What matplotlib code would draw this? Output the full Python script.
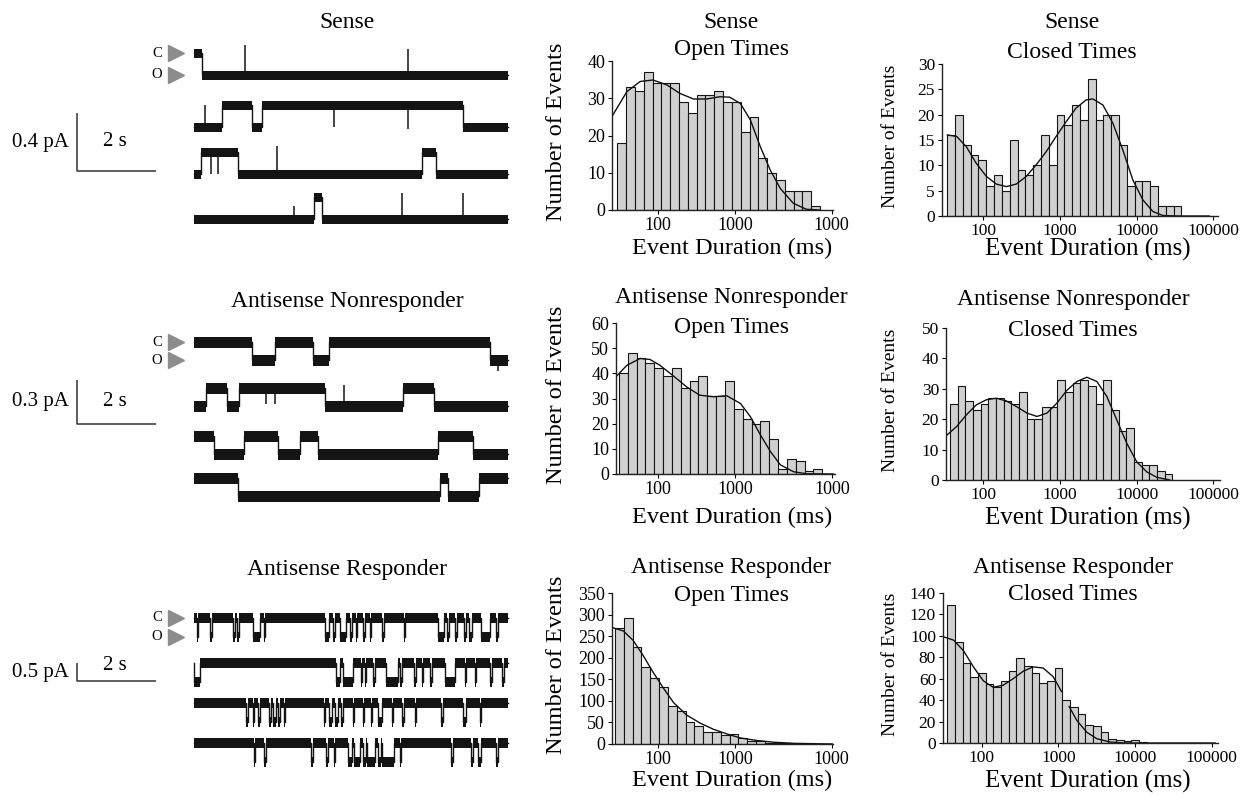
import numpy as np
import matplotlib
matplotlib.use("Agg")
import matplotlib.pyplot as plt
from matplotlib.ticker import NullLocator, FixedLocator, FixedFormatter

plt.rcParams["font.family"] = ["Liberation Serif", "DejaVu Serif"]

W, H = 1257, 797

# ---------------------------------------------------------------------------
# Single-channel sweeps (8 s each). "C" = closed (upper level), "O" = open.
# switches: times (s) where the channel changes state.
# spikes: (time s, size in unitary amplitudes, + = upward) brief events.
# ---------------------------------------------------------------------------
SWEEP_S = 8.0

SENSE_START = ["C", "O", "O", "O"]
SENSE_SWITCH = [
    [0.21],
    [0.72, 1.49, 1.74, 6.85],
    [0.19, 1.11, 5.80, 6.17],
    [3.06, 3.25],
]
SENSE_SPIKES = [
    [(1.29, 1.4), (5.46, 1.2)],
    [(0.27, 1.0), (3.57, -1.0), (5.46, -1.1)],
    [(0.44, -1.0), (0.60, -1.0), (2.11, 1.3)],
    [(2.54, 0.6), (5.29, 1.2), (6.85, 1.2)],
]

NONRESP_START = ["C", "O", "C", "C"]
NONRESP_SWITCH = [
    [1.49, 2.06, 3.03, 3.43, 7.55],
    [0.30, 0.85, 1.15, 3.33, 5.33, 6.12],
    [0.51, 1.28, 2.13, 2.69, 3.16, 6.21, 7.10],
    [1.11, 6.27, 6.48, 7.27],
]
NONRESP_SPIKES = [
    [(7.75, -0.6)],
    [(1.83, -0.9), (2.06, -0.9), (3.82, 1.2)],
    [],
    [],
]

# responder: closed baseline with brief openings (start s, duration s)
RESP_OPENINGS = [
    [(0.08, 0.03), (0.42, 0.03), (1.00, 0.04), (1.10, 0.05), (1.50, 0.18),
     (1.78, 0.03), (3.35, 0.08), (3.55, 0.05), (3.72, 0.15), (3.98, 0.04),
     (4.12, 0.04), (4.30, 0.05), (4.48, 0.03), (4.80, 0.03), (5.35, 0.03),
     (6.22, 0.15), (6.45, 0.04), (6.65, 0.05), (6.88, 0.04), (7.00, 0.08),
     (7.32, 0.22), (7.70, 0.04)],
    [(0.00, 0.15), (3.62, 0.10), (3.80, 0.25), (4.25, 0.04), (4.35, 0.04),
     (4.55, 0.05), (4.90, 0.30), (5.25, 0.05), (5.60, 0.05), (5.80, 0.04),
     (6.00, 0.06), (6.40, 0.25), (6.90, 0.04), (7.15, 0.04), (7.55, 0.04),
     (7.85, 0.04)],
    [(1.32, 0.05), (1.50, 0.04), (1.62, 0.06), (1.90, 0.05), (2.02, 0.08),
     (2.15, 0.05), (2.30, 0.03), (3.30, 0.04), (3.45, 0.06), (3.58, 0.10),
     (3.75, 0.05), (4.05, 0.03), (4.30, 0.04), (4.50, 0.03), (4.68, 0.12),
     (5.05, 0.03), (5.30, 0.05), (5.62, 0.04), (6.30, 0.05), (6.86, 0.06),
     (7.28, 0.04)],
    [(1.52, 0.04), (1.78, 0.05), (2.99, 0.04), (3.36, 0.05), (3.57, 0.03),
     (3.92, 0.10), (4.07, 0.15), (4.30, 0.08), (4.42, 0.20), (4.68, 0.08),
     (4.80, 0.30), (5.25, 0.03), (6.56, 0.04), (7.05, 0.05), (7.24, 0.06),
     (7.70, 0.04)],
]

# ---------------------------------------------------------------------------
# Dwell-time histograms (counts per log bin) and fitted curves (ms, count)
# ---------------------------------------------------------------------------
SENSE_OPEN = [18, 33, 32, 37, 34, 34, 34, 29, 26, 31, 31, 32, 29, 29, 21, 25,
              14, 10, 8, 5, 5, 5, 1]
SENSE_OPEN_FIT_X = [25, 39, 58, 85, 129, 191, 288, 427, 631, 851, 1175, 1585,
                    2138, 2884, 3890, 5754, 8511, 12589]
SENSE_OPEN_FIT_Y = [25.2, 31.8, 34.5, 34.9, 33.6, 31.3, 29.8, 29.8, 30.4, 30.3,
                    28.6, 24.2, 17.0, 10.7, 5.8, 1.8, 0.2, 0.0]

SENSE_CLOSED = [16, 20, 14, 12, 11, 6, 8, 5, 15, 9, 8, 10, 16, 10, 20, 18, 22,
                19, 27, 19, 20, 20, 14, 6, 7, 7, 6, 2, 2, 2]
SENSE_CLOSED_FIT_X = [34, 45, 60, 81, 110, 148, 200, 269, 363, 490, 661, 891,
                      1202, 1622, 2188, 2692, 3631, 4898, 6607, 8913, 12023,
                      16218, 21878, 32359, 88000]
SENSE_CLOSED_FIT_Y = [16.0, 15.7, 13.7, 10.4, 7.8, 6.3, 5.8, 6.3, 7.8, 10.1,
                      12.7, 15.7, 18.6, 21.3, 22.9, 23.1, 21.9, 18.3, 13.0, 7.1,
                      3.2, 0.9, 0.1, 0.0, 0.0]

NONRESP_OPEN = [40, 48, 46, 44, 42, 39, 42, 34, 37, 39, 31, 31, 37, 26, 22, 20,
                21, 14, 2, 6, 5, 1, 2]
NONRESP_OPEN_FIT_X = [28, 39, 58, 78, 105, 158, 234, 347, 525, 776, 1175, 1585,
                      2138, 2884, 3890, 5754, 8511, 19055]
NONRESP_OPEN_FIT_Y = [38.6, 43.2, 45.9, 45.5, 43.2, 38.9, 34.6, 31.3, 30.7,
                      31.1, 28.0, 22.7, 15.5, 8.9, 3.6, 0.9, 0.1, 0.0]

NONRESP_CLOSED = [25, 31, 26, 23, 25, 27, 27, 26, 25, 29, 20, 20, 24, 24, 33,
                  29, 32, 33, 31, 25, 33, 23, 16, 17, 6, 5, 5, 3, 2]
NONRESP_CLOSED_FIT_X = [32, 45, 60, 81, 110, 148, 200, 269, 372, 501, 676, 912,
                        1230, 1660, 2239, 3020, 4074, 5495, 7413, 10000, 13490,
                        18197, 26915]
NONRESP_CLOSED_FIT_Y = [14.3, 17.6, 21.4, 24.7, 26.4, 26.9, 26.0, 24.2, 22.0,
                        20.9, 22.0, 25.3, 29.5, 32.4, 33.8, 32.4, 27.5, 19.8,
                        12.1, 6.0, 2.7, 0.9, 0.0]

RESP_OPEN = [270, 291, 224, 178, 153, 131, 88, 77, 52, 42, 28, 27, 20, 23, 13,
             8, 8, 3, 2, 2, 1, 1, 1]
RESP_OPEN_FIT_X = [25, 35, 47, 63, 85, 117, 158, 234, 355, 525, 794, 1175, 1950,
                   3236, 6026, 19055]
RESP_OPEN_FIT_Y = [270, 262, 240, 206, 167, 129, 96, 67, 48, 34, 23, 14, 8, 4,
                   1.5, 0]

RESP_CLOSED = [129, 94, 75, 62, 65, 55, 52, 58, 67, 79, 72, 65, 56, 58, 70, 40,
               34, 27, 17, 16, 10, 4, 3, 2, 3, 1]
# the published fit is drawn in two pieces (gap near 1.2 s)
RESP_CLOSED_FIT_X = [32, 43, 58, 78, 105, 141, 191, 257, 347, 468, 631, 851,
                     1096, np.nan, 1380, 1738, 2344, 3162, 4677, 7079, 110000]
RESP_CLOSED_FIT_Y = [99, 96, 86, 71, 58, 52, 54, 60, 67, 71, 70, 62, 48, np.nan,
                     34, 21, 10, 4, 1, 0, 0]

# ---------------------------------------------------------------------------
fig = plt.figure(figsize=(W / 100, H / 100), dpi=100)
fig.patch.set_facecolor("white")


def rect(left, top, right, bottom):
    return [left / W, 1 - bottom / H, (right - left) / W, (bottom - top) / H]


def ftext(x, y, s, **kw):
    fig.text(x / W, 1 - y / H, s, **kw)


# --- trace panels ----------------------------------------------------------
PX_PER_S = 39.25
T0_PX = 194          # pixel column where every sweep starts


def openings_to_switches(events):
    out = []
    for t, d in events:
        out += [t, t + d]
    return out


def steps(start, switches):
    t = np.concatenate([[0.0], switches, [SWEEP_S]])
    first = 1.0 if start == "C" else 0.0
    lev = [first if i % 2 == 0 else 1.0 - first for i in range(len(switches) + 1)]
    lev.append(lev[-1])
    return t, np.array(lev)


def trace_panel(title, title_y, starts, switches, spikes, top, bottom, ppa,
                amp, noise_px, rows, bar_px, scale, scale_txt):
    ax = fig.add_axes(rect(0, top, 520, bottom))
    ax.set_xlim(-T0_PX / PX_PER_S, (520 - T0_PX) / PX_PER_S)
    ax.set_ylim(0, (bottom - top) / ppa)
    ax.axis("off")
    nh = noise_px / ppa
    first = None
    for k in range(4):
        t, lev = steps(starts[k], switches[k])
        base = (bottom - rows[k]) / ppa
        y = base + lev * amp
        ax.fill_between(t, y - nh, y + nh, step="post", color="#141414", lw=0)
        ax.step(t, y, where="post", color="#141414", lw=1.0)
        for ts, sz in spikes[k]:
            i = np.searchsorted(t, ts, side="right") - 1
            ax.vlines(ts, y[i], y[i] + sz * amp, color="#141414", lw=1.1)
        if first is None:
            first = base
    # closed / open markers on the first sweep
    for lab, lvl in (("C", first + amp), ("O", first)):
        ax.text(-0.94, lvl, lab, ha="center", va="center", fontsize=10.5)
        ax.plot(-0.46, lvl, marker=">", ms=11, color="#8c8c8c", clip_on=False)
    # scale bar
    x0 = -2.97
    yb = (bottom - bar_px) / ppa
    ax.plot([x0, x0, x0 + 2.0], [yb + scale, yb, yb], color="#333333", lw=1.1,
            solid_capstyle="butt")
    ax.text(x0 - 0.22, yb + scale / 2, scale_txt, ha="right", va="center",
            fontsize=15)
    ax.text(x0 + 0.95, max(yb + scale / 2, yb + 16 / ppa), "2 s", ha="center",
            va="center", fontsize=15)
    ftext(347, title_y, title, ha="center", va="center", fontsize=17)


trace_panel("Sense", 22, SENSE_START, SENSE_SWITCH, SENSE_SPIKES,
            30, 250, 145, 0.15, 4.5, [75, 127, 174, 219], 171, 0.4, "0.4 pA")
trace_panel("Antisense Nonresponder", 301, NONRESP_START, NONRESP_SWITCH,
            NONRESP_SPIKES, 320, 520, 147, 0.12, 5.5, [360, 406, 454, 496],
            424, 0.3, "0.3 pA")
trace_panel("Antisense Responder", 570, ["C"] * 4,
            [openings_to_switches(e) for e in RESP_OPENINGS],
            [[], [], [], []], 600, 790, 36, 0.53, 5.0, [637, 682, 722, 762],
            681, 0.5, "0.5 pA")


# --- histogram panels ------------------------------------------------------
def hist_panel(box, counts, log_start, log_width, xlim_log, ymax, ystep,
               xticks, xlabels, fit_x, fit_y, titles, title_x, title_ys,
               ylab_x, xlab_x, xlab_y, ylab_fs, tick_fs, xlab_fs):
    ax = fig.add_axes(rect(*box))
    edges = 10 ** (log_start + log_width * np.arange(len(counts) + 1))
    ax.bar(edges[:-1], counts, width=np.diff(edges), align="edge",
           color="#d0d0d0", edgecolor="#151515", linewidth=0.8)
    ax.plot(fit_x, fit_y, color="#111111", lw=1.0)
    ax.set_xscale("log")
    ax.set_xlim(10 ** xlim_log[0], 10 ** xlim_log[1])
    ax.set_ylim(0, ymax)
    ax.xaxis.set_major_locator(FixedLocator(xticks))
    ax.xaxis.set_major_formatter(FixedFormatter(xlabels))
    ax.xaxis.set_minor_locator(NullLocator())
    ax.set_yticks(np.arange(0, ymax + 1, ystep))
    for s in ("top", "right"):
        ax.spines[s].set_visible(False)
    for s in ("left", "bottom"):
        ax.spines[s].set_linewidth(1.0)
        ax.spines[s].set_color("#222222")
    ax.tick_params(length=3, width=0.8, labelsize=tick_fs, pad=2)
    for txt, ty in zip(titles, title_ys):
        ftext(title_x, ty, txt, ha="center", va="center", fontsize=17)
    cy = (box[1] + box[3]) / 2
    ftext(ylab_x, cy - 4, "Number of Events", rotation=90, ha="center",
          va="center", fontsize=ylab_fs)
    ftext(xlab_x, xlab_y, "Event Duration (ms)", ha="center", va="center",
          fontsize=xlab_fs)
    return ax


OPEN_TICKS = [100, 1000, 10 ** 4.26]
OPEN_LABELS = ["100", "1000", "1000"]
CLOSED_TICKS = [100, 1000, 10000, 100000]
CLOSED_LABELS = ["100", "1000", "10000", "100000"]

hist_panel((612, 61, 833, 210), SENSE_OPEN, 1.465, 0.115, (1.396, 4.278), 40, 10,
           OPEN_TICKS, OPEN_LABELS, SENSE_OPEN_FIT_X, SENSE_OPEN_FIT_Y,
           ("Sense", "Open Times"), 731, (22, 50), 556, 732, 248, 17.5, 13, 17.5)
hist_panel((942, 64, 1218, 216), SENSE_CLOSED, 1.531, 0.1017, (1.462, 5.06), 30, 5,
           CLOSED_TICKS, CLOSED_LABELS, SENSE_CLOSED_FIT_X, SENSE_CLOSED_FIT_Y,
           ("Sense", "Closed Times"), 1072, (22, 52), 891, 1088, 249, 14, 12.5, 18)
hist_panel((616, 323, 835, 474), NONRESP_OPEN, 1.488, 0.115, (1.449, 4.30), 60, 10,
           OPEN_TICKS, OPEN_LABELS, NONRESP_OPEN_FIT_X, NONRESP_OPEN_FIT_Y,
           ("Antisense Nonresponder", "Open Times"), 731, (298, 328), 557, 732,
           517, 17.5, 13, 17.5)
hist_panel((946, 328, 1220, 480), NONRESP_CLOSED, 1.566, 0.1, (1.514, 5.086), 50,
           10, CLOSED_TICKS, CLOSED_LABELS, NONRESP_CLOSED_FIT_X,
           NONRESP_CLOSED_FIT_Y, ("Antisense Nonresponder", "Closed Times"),
           1073, (300, 330), 891, 1088, 518, 14, 12.5, 18)
hist_panel((612, 593, 833, 744), RESP_OPEN, 1.435, 0.115, (1.396, 4.278), 350, 50,
           OPEN_TICKS, OPEN_LABELS, RESP_OPEN_FIT_X, RESP_OPEN_FIT_Y,
           ("Antisense Responder", "Open Times"), 731, (567, 595), 557, 732, 780,
           17.5, 13, 17.5)
hist_panel((943, 593, 1218, 743), RESP_CLOSED, 1.552, 0.1, (1.495, 5.08), 140, 20,
           CLOSED_TICKS, CLOSED_LABELS, RESP_CLOSED_FIT_X, RESP_CLOSED_FIT_Y,
           ("Antisense Responder", "Closed Times"), 1073, (568, 595), 891, 1088,
           781, 14, 12.5, 18)

fig.savefig("out.png", dpi=100, facecolor="white")
